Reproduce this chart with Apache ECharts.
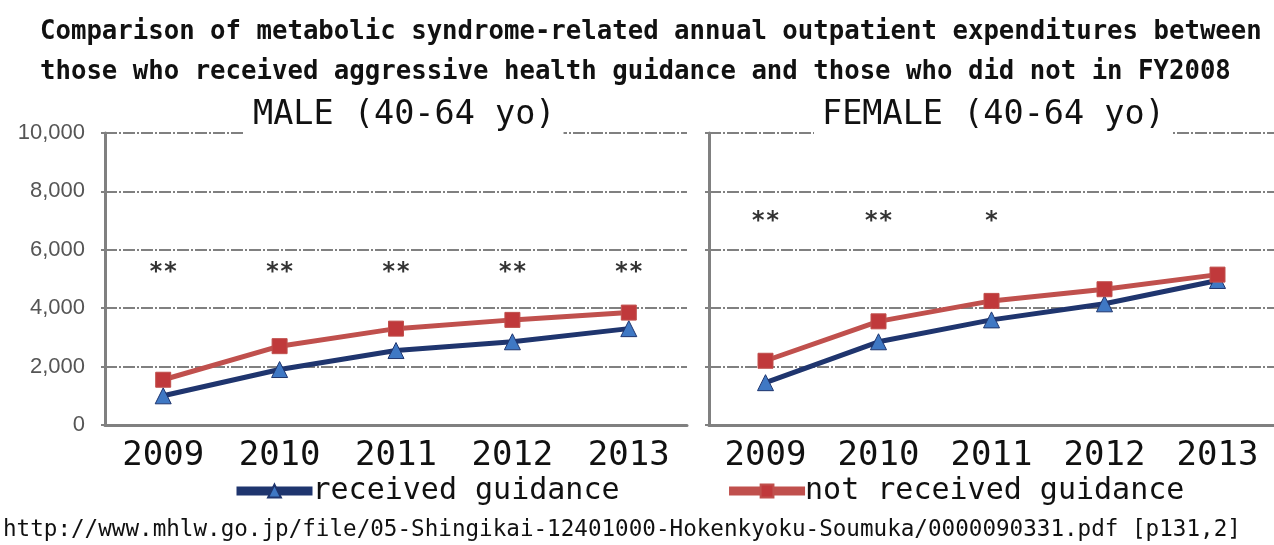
<!DOCTYPE html>
<html>
<head>
    <meta charset="utf-8">
    <title>Metabolic syndrome outpatient expenditures</title>
    <script src="https://cdn.jsdelivr.net/npm/echarts@6/dist/echarts.min.js"></script>
    <style>
        html, body { margin: 0; padding: 0; background: #fff; }
        #chart { width: 1274px; height: 545px; }
    </style>
</head>
<body>
    <div id="chart"></div>
    <script>
        // values (yen)
        var years = ['2009', '2010', '2011', '2012', '2013'];
        var maleReceived = [1000, 1900, 2550, 2850, 3300];
        var maleNotReceived = [1550, 2700, 3300, 3600, 3850];
        var femaleReceived = [1450, 2850, 3600, 4150, 4950];
        var femaleNotReceived = [2200, 3550, 4250, 4650, 5150];
        var maleSig = ['**', '**', '**', '**', '**'];
        var femaleSig = ['**', '**', '*', '', ''];
        var yTicks = [0, 2000, 4000, 6000, 8000, 10000];

        var nameRecv = 'received guidance';
        var nameNot = 'not received guidance';
        var mono = 'DejaVu Sans Mono';

        var blueLine = '#1f356e', blueMark = '#3f78c4';
        var redLine = '#c0504d', redMark = '#c0393b';
        var gridColor = '#808080';

        function yAxis(idx, showLabels) {
            return {
                type: 'value', gridIndex: idx,
                min: yTicks[0], max: yTicks[yTicks.length - 1], interval: yTicks[1] - yTicks[0],
                axisLine: { show: true, lineStyle: { color: gridColor, width: 3 } },
                axisTick: { show: true, length: 4, lineStyle: { color: gridColor, width: 2 } },
                axisLabel: {
                    show: showLabels, color: '#555', fontSize: 22, margin: 20,
                    fontFamily: 'Liberation Sans',
                    formatter: function (v) { return v.toLocaleString('en-US'); }
                },
                splitLine: { show: true, lineStyle: { color: gridColor, width: 2, type: [12, 2, 2, 2] } }
            };
        }
        function xAxis(idx) {
            return {
                type: 'category', gridIndex: idx, data: years, boundaryGap: true,
                axisLine: { lineStyle: { color: gridColor, width: 3 } },
                axisTick: { length: 5, lineStyle: { color: gridColor, width: 2 } },
                axisLabel: { color: '#111', fontSize: 34, fontFamily: mono, margin: 14 }
            };
        }
        function line(name, idx, data, lc, mc, sym, size) {
            return {
                name: name, type: 'line', xAxisIndex: idx, yAxisIndex: idx, data: data,
                symbol: sym, symbolSize: size, z: 3,
                lineStyle: { color: lc, width: 5 },
                itemStyle: { color: mc, borderColor: lc, borderWidth: 1 }
            };
        }
        var sigLevel = [5200, 6950];
        function sig(idx, marks) {
            return {
                type: 'scatter', xAxisIndex: idx, yAxisIndex: idx, symbolSize: 0, silent: true,
                data: marks.map(function (m, i) { return { value: [years[i], sigLevel[idx]], mark: m }; }),
                label: {
                    show: true, position: 'inside', color: '#000', fontSize: 24, fontWeight: 'bold',
                    fontFamily: mono,
                    formatter: function (p) { return p.data.mark; }
                }
            };
        }
        var subTitle = {
            backgroundColor: '#fff', padding: [2, 8, 6, 8], top: 96,
            textStyle: { fontSize: 33.5, fontWeight: 'normal', color: '#111', fontFamily: mono }
        };

        var chart = echarts.init(document.getElementById('chart'));
        chart.setOption({
            animation: false,
            title: [
                {
                    text: 'Comparison of metabolic syndrome-related annual outpatient expenditures between\nthose who received aggressive health guidance and those who did not in FY2008',
                    left: 40, top: 12, padding: 0,
                    textStyle: { fontSize: 25.7, lineHeight: 40, fontWeight: 'bold', color: '#111', fontFamily: mono }
                },
                Object.assign({ text: 'MALE (40-64 yo)', left: 245 }, subTitle),
                Object.assign({ text: 'FEMALE (40-64 yo)', left: 814 }, subTitle),
                {
                    text: 'http://www.mhlw.go.jp/file/05-Shingikai-12401000-Hokenkyoku-Soumuka/0000090331.pdf [p131,2]',
                    left: 3, top: 519, padding: 0,
                    textStyle: { fontSize: 22.6, fontWeight: 'normal', color: '#111', fontFamily: mono }
                }
            ],
            legend: {
                data: [nameRecv, nameNot],
                top: 476, left: 232, padding: 0,
                itemWidth: 76, itemHeight: 16, itemGap: 105,
                lineStyle: { width: 9 },
                textStyle: { fontSize: 30, color: '#111', fontFamily: mono, padding: [0, 0, 0, -5] }
            },
            grid: [
                { left: 105, top: 133, width: 582, bottom: 120 },
                { left: 709, top: 133, width: 573, bottom: 120 }
            ],
            xAxis: [xAxis(0), xAxis(1)],
            yAxis: [yAxis(0, true), yAxis(1, false)],
            series: [
                line(nameRecv, 0, maleReceived, blueLine, blueMark, 'triangle', 16),
                line(nameNot, 0, maleNotReceived, redLine, redMark, 'rect', 15),
                line(nameRecv, 1, femaleReceived, blueLine, blueMark, 'triangle', 16),
                line(nameNot, 1, femaleNotReceived, redLine, redMark, 'rect', 15),
                sig(0, maleSig),
                sig(1, femaleSig)
            ]
        });
    </script>
</body>
</html>
